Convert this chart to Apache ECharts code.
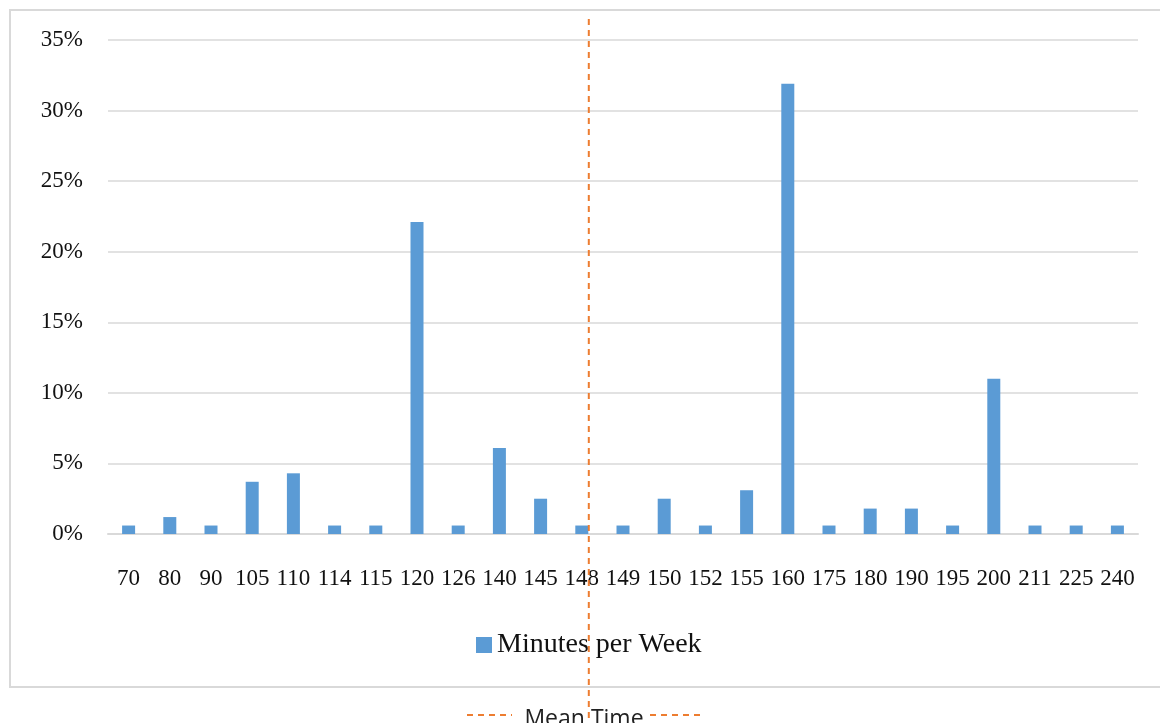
<!DOCTYPE html>
<html><head><meta charset="utf-8">
<script src="https://cdn.jsdelivr.net/npm/echarts@6/dist/echarts.min.js"></script>
<style>html,body{margin:0;padding:0;background:#fff}#c{width:1160px;height:723px}</style>
</head><body><div id="c"></div>
<script>
const categories = ['70','80','90','105','110','114','115','120','126','140','145','148','149','150','152','155','160','175','180','190','195','200','211','225','240'];
const values = [0.6,1.2,0.6,3.7,4.3,0.6,0.6,22.1,0.6,6.1,2.5,0.6,0.6,2.5,0.6,3.1,31.9,0.6,1.8,1.8,0.6,11.0,0.6,0.6,0.6];
const yTicks = [0,5,10,15,20,25,30,35];
const seriesName = 'Minutes per Week';
const meanLabel = 'Mean Time';
const meanCategoryPos = 11.17; // position of mean marker in category index units

const chart = echarts.init(document.getElementById('c'));
const serif = '"Liberation Serif", "DejaVu Serif", serif';
chart.setOption({
  animation: false,
  grid: {left: 108, right: 22, top: 40, bottom: 189},
  legend: {
    data: [seriesName], top: 631, left: 476, padding: 0, itemWidth: 16, itemHeight: 16, itemGap: 8,
    icon: 'rect',
    textStyle: {fontFamily: serif, fontSize: 28, color: '#111'}
  },
  xAxis: {
    type: 'category', data: categories,
    axisLine: {lineStyle: {color: '#D9D9D9', width: 2}},
    axisTick: {show: false},
    axisLabel: {fontFamily: serif, fontSize: 23, color: '#111', margin: 33, interval: 0}
  },
  yAxis: {
    type: 'value', min: 0, max: 35, interval: 5,
    axisLine: {show: false}, axisTick: {show: false},
    splitLine: {lineStyle: {color: '#D9D9D9', width: 1.5}},
    axisLabel: {fontFamily: serif, fontSize: 23, color: '#111', margin: 25,
      formatter: v => yTicks.includes(v) ? v + '%' : ''}
  },
  series: [{
    name: seriesName, type: 'bar', data: values, barWidth: 13,
    itemStyle: {color: '#5B9BD5'}
  }]
});

function drawOverlay() {
  const p0 = chart.convertToPixel({xAxisIndex: 0}, 0);
  const p1 = chart.convertToPixel({xAxisIndex: 0}, 1);
  const step = p1 - p0;
  const mx = p0 + step * meanCategoryPos;
  const dash = {stroke: '#ED7D31', lineWidth: 2, lineDash: [6, 5]};
  chart.setOption({
    graphic: [
      {type: 'rect', shape: {x: 10, y: 10, width: 1160, height: 677}, style: {fill: 'none', stroke: '#D9D9D9', lineWidth: 2}, z: -1},
      {type: 'line', shape: {x1: mx, y1: 19, x2: mx, y2: 723}, style: dash, z: 10},
      {type: 'line', shape: {x1: 467, y1: 715, x2: 512, y2: 715}, style: dash},
      {type: 'line', shape: {x1: 650, y1: 715, x2: 705, y2: 715}, style: dash},
      {type: 'text', x: 584, y: 719, style: {text: meanLabel, fontFamily: '"Open Sans", "DejaVu Sans", sans-serif', fontSize: 23, fill: '#222', align: 'center', verticalAlign: 'middle'}}
    ]
  });
}
drawOverlay();
</script></body></html>
